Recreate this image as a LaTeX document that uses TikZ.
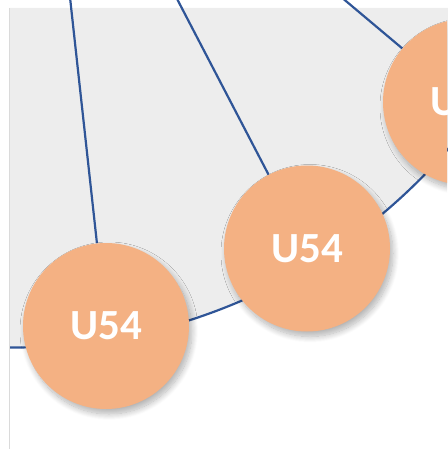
\documentclass[tikz,border=0pt]{standalone}
\usepackage{fontspec}
\newfontfamily\carlito{Carlito}
\usetikzlibrary{shadows.blur}
\definecolor{panelgray}{RGB}{237,237,237}
\definecolor{edgeblue}{RGB}{47,85,151}
\definecolor{nodeorange}{RGB}{244,177,131}
\definecolor{framegray}{RGB}{218,218,218}
\pgfdeclarelayer{background}
\pgfsetlayers{background,main}
\tikzset{
  unode/.style={circle, fill=nodeorange, minimum size=166pt, inner sep=0pt,
    text=white, font=\carlito\bfseries\fontsize{43}{43}\selectfont,
    blur shadow={shadow xshift=3pt, shadow yshift=-5pt, shadow blur radius=6pt, shadow opacity=30, shadow blur steps=12}},
  link/.style={draw=edgeblue, line width=2.2pt},
}
\begin{document}
\begin{tikzpicture}[x=1pt,y=-1pt]
\useasboundingbox (0,0) rectangle (447,449);
\clip (8,8) rectangle (447,449);
\coordinate (ctr) at (15.2,-223.8);
\coordinate (t1) at (67,-30);
\coordinate (t2) at (162,-30);
\coordinate (t3) at (309,-30);
\node[unode] (c1) at (106,326) {U54};
\node[unode] (c2) at (307,248.5) {U54};
\node[unode] (c3) at (466,102) {U54};
\begin{pgfonlayer}{background}
  \fill[panelgray] (10,8) -- (520,8) -- ([shift={(32:571.3)}]ctr)
     arc[start angle=32, end angle=90.52, radius=571.3] -- cycle;
  \draw[framegray, line width=1pt] (9,8) -- (9,449);
  \draw[link] ([shift={(32:571.3)}]ctr) arc[start angle=32, end angle=90.52, radius=571.3];
  \draw[link] (t1) -- (c1);
  \draw[link] (t2) -- (c2);
  \draw[link] (t3) -- (c3);
\end{pgfonlayer}
\end{tikzpicture}
\end{document}
